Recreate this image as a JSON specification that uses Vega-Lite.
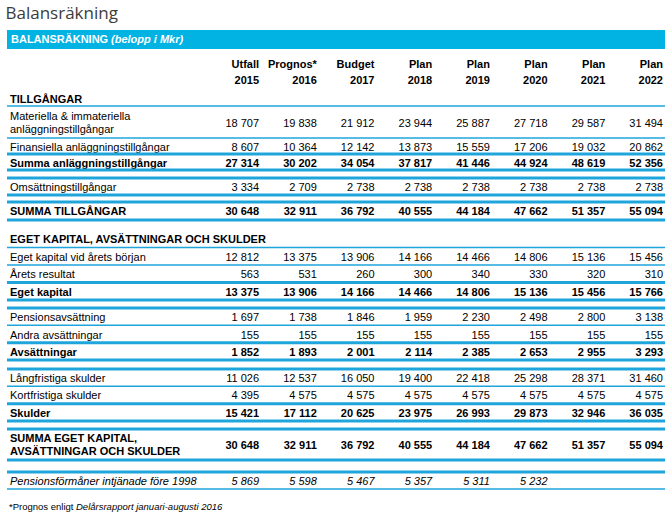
{
"$schema":"https://vega.github.io/schema/vega-lite/v6.json",
"padding":{"left":5,"right":5,"top":5,"bottom":0},
"title":{"text":"Balansräkning","anchor":"start","font":"Open Sans","fontSize":17,"fontWeight":"normal","color":"#3c3c3c","offset":7},
"bounds":"flush",
"spacing":0,
"config":{
  "font":"Liberation Sans",
  "view":{"stroke":null},
  "locale":{"number":{"decimal":",","thousands":" ","grouping":[3],"currency":[""," kr"]}},
  "text":{"dy":1.5},
  "axisY":{"labelAlign":"left","labelPadding":-2.5,"labelOffset":1.5,"labelLimit":400,"labelOverlap":false,"domain":false,"ticks":false,"tickSize":0,"grid":false,"labelFontSize":11,"labelFont":"Liberation Sans","labelColor":"#000000","labelLineHeight":13}
},
"datasets":{
 "rader":[
  {"post":"TILLGÅNGAR"},
  {"post":"Materiella & immateriella\nanläggningstillgångar"},
  {"post":"Finansiella anläggningstillgångar"},
  {"post":"Summa anläggningstillgångar"},
  {"post":"Omsättningstillgångar"},
  {"post":"SUMMA TILLGÅNGAR"},
  {"post":"EGET KAPITAL, AVSÄTTNINGAR OCH SKULDER"},
  {"post":"Eget kapital vid årets början"},
  {"post":"Årets resultat"},
  {"post":"Eget kapital"},
  {"post":"Pensionsavsättning"},
  {"post":"Andra avsättningar"},
  {"post":"Avsättningar"},
  {"post":"Långfristiga skulder"},
  {"post":"Kortfristiga skulder"},
  {"post":"Skulder"},
  {"post":"SUMMA EGET KAPITAL,\nAVSÄTTNINGAR OCH SKULDER"},
  {"post":"Pensionsförmåner intjänade före 1998"}
 ],
 "celler":[
  {"post":"Materiella & immateriella\nanläggningstillgångar","kolumn":"Utfall 2015","belopp":18707},
  {"post":"Materiella & immateriella\nanläggningstillgångar","kolumn":"Prognos* 2016","belopp":19838},
  {"post":"Materiella & immateriella\nanläggningstillgångar","kolumn":"Budget 2017","belopp":21912},
  {"post":"Materiella & immateriella\nanläggningstillgångar","kolumn":"Plan 2018","belopp":23944},
  {"post":"Materiella & immateriella\nanläggningstillgångar","kolumn":"Plan 2019","belopp":25887},
  {"post":"Materiella & immateriella\nanläggningstillgångar","kolumn":"Plan 2020","belopp":27718},
  {"post":"Materiella & immateriella\nanläggningstillgångar","kolumn":"Plan 2021","belopp":29587},
  {"post":"Materiella & immateriella\nanläggningstillgångar","kolumn":"Plan 2022","belopp":31494},
  {"post":"Finansiella anläggningstillgångar","kolumn":"Utfall 2015","belopp":8607},
  {"post":"Finansiella anläggningstillgångar","kolumn":"Prognos* 2016","belopp":10364},
  {"post":"Finansiella anläggningstillgångar","kolumn":"Budget 2017","belopp":12142},
  {"post":"Finansiella anläggningstillgångar","kolumn":"Plan 2018","belopp":13873},
  {"post":"Finansiella anläggningstillgångar","kolumn":"Plan 2019","belopp":15559},
  {"post":"Finansiella anläggningstillgångar","kolumn":"Plan 2020","belopp":17206},
  {"post":"Finansiella anläggningstillgångar","kolumn":"Plan 2021","belopp":19032},
  {"post":"Finansiella anläggningstillgångar","kolumn":"Plan 2022","belopp":20862},
  {"post":"Summa anläggningstillgångar","kolumn":"Utfall 2015","belopp":27314},
  {"post":"Summa anläggningstillgångar","kolumn":"Prognos* 2016","belopp":30202},
  {"post":"Summa anläggningstillgångar","kolumn":"Budget 2017","belopp":34054},
  {"post":"Summa anläggningstillgångar","kolumn":"Plan 2018","belopp":37817},
  {"post":"Summa anläggningstillgångar","kolumn":"Plan 2019","belopp":41446},
  {"post":"Summa anläggningstillgångar","kolumn":"Plan 2020","belopp":44924},
  {"post":"Summa anläggningstillgångar","kolumn":"Plan 2021","belopp":48619},
  {"post":"Summa anläggningstillgångar","kolumn":"Plan 2022","belopp":52356},
  {"post":"Omsättningstillgångar","kolumn":"Utfall 2015","belopp":3334},
  {"post":"Omsättningstillgångar","kolumn":"Prognos* 2016","belopp":2709},
  {"post":"Omsättningstillgångar","kolumn":"Budget 2017","belopp":2738},
  {"post":"Omsättningstillgångar","kolumn":"Plan 2018","belopp":2738},
  {"post":"Omsättningstillgångar","kolumn":"Plan 2019","belopp":2738},
  {"post":"Omsättningstillgångar","kolumn":"Plan 2020","belopp":2738},
  {"post":"Omsättningstillgångar","kolumn":"Plan 2021","belopp":2738},
  {"post":"Omsättningstillgångar","kolumn":"Plan 2022","belopp":2738},
  {"post":"SUMMA TILLGÅNGAR","kolumn":"Utfall 2015","belopp":30648},
  {"post":"SUMMA TILLGÅNGAR","kolumn":"Prognos* 2016","belopp":32911},
  {"post":"SUMMA TILLGÅNGAR","kolumn":"Budget 2017","belopp":36792},
  {"post":"SUMMA TILLGÅNGAR","kolumn":"Plan 2018","belopp":40555},
  {"post":"SUMMA TILLGÅNGAR","kolumn":"Plan 2019","belopp":44184},
  {"post":"SUMMA TILLGÅNGAR","kolumn":"Plan 2020","belopp":47662},
  {"post":"SUMMA TILLGÅNGAR","kolumn":"Plan 2021","belopp":51357},
  {"post":"SUMMA TILLGÅNGAR","kolumn":"Plan 2022","belopp":55094},
  {"post":"Eget kapital vid årets början","kolumn":"Utfall 2015","belopp":12812},
  {"post":"Eget kapital vid årets början","kolumn":"Prognos* 2016","belopp":13375},
  {"post":"Eget kapital vid årets början","kolumn":"Budget 2017","belopp":13906},
  {"post":"Eget kapital vid årets början","kolumn":"Plan 2018","belopp":14166},
  {"post":"Eget kapital vid årets början","kolumn":"Plan 2019","belopp":14466},
  {"post":"Eget kapital vid årets början","kolumn":"Plan 2020","belopp":14806},
  {"post":"Eget kapital vid årets början","kolumn":"Plan 2021","belopp":15136},
  {"post":"Eget kapital vid årets början","kolumn":"Plan 2022","belopp":15456},
  {"post":"Årets resultat","kolumn":"Utfall 2015","belopp":563},
  {"post":"Årets resultat","kolumn":"Prognos* 2016","belopp":531},
  {"post":"Årets resultat","kolumn":"Budget 2017","belopp":260},
  {"post":"Årets resultat","kolumn":"Plan 2018","belopp":300},
  {"post":"Årets resultat","kolumn":"Plan 2019","belopp":340},
  {"post":"Årets resultat","kolumn":"Plan 2020","belopp":330},
  {"post":"Årets resultat","kolumn":"Plan 2021","belopp":320},
  {"post":"Årets resultat","kolumn":"Plan 2022","belopp":310},
  {"post":"Eget kapital","kolumn":"Utfall 2015","belopp":13375},
  {"post":"Eget kapital","kolumn":"Prognos* 2016","belopp":13906},
  {"post":"Eget kapital","kolumn":"Budget 2017","belopp":14166},
  {"post":"Eget kapital","kolumn":"Plan 2018","belopp":14466},
  {"post":"Eget kapital","kolumn":"Plan 2019","belopp":14806},
  {"post":"Eget kapital","kolumn":"Plan 2020","belopp":15136},
  {"post":"Eget kapital","kolumn":"Plan 2021","belopp":15456},
  {"post":"Eget kapital","kolumn":"Plan 2022","belopp":15766},
  {"post":"Pensionsavsättning","kolumn":"Utfall 2015","belopp":1697},
  {"post":"Pensionsavsättning","kolumn":"Prognos* 2016","belopp":1738},
  {"post":"Pensionsavsättning","kolumn":"Budget 2017","belopp":1846},
  {"post":"Pensionsavsättning","kolumn":"Plan 2018","belopp":1959},
  {"post":"Pensionsavsättning","kolumn":"Plan 2019","belopp":2230},
  {"post":"Pensionsavsättning","kolumn":"Plan 2020","belopp":2498},
  {"post":"Pensionsavsättning","kolumn":"Plan 2021","belopp":2800},
  {"post":"Pensionsavsättning","kolumn":"Plan 2022","belopp":3138},
  {"post":"Andra avsättningar","kolumn":"Utfall 2015","belopp":155},
  {"post":"Andra avsättningar","kolumn":"Prognos* 2016","belopp":155},
  {"post":"Andra avsättningar","kolumn":"Budget 2017","belopp":155},
  {"post":"Andra avsättningar","kolumn":"Plan 2018","belopp":155},
  {"post":"Andra avsättningar","kolumn":"Plan 2019","belopp":155},
  {"post":"Andra avsättningar","kolumn":"Plan 2020","belopp":155},
  {"post":"Andra avsättningar","kolumn":"Plan 2021","belopp":155},
  {"post":"Andra avsättningar","kolumn":"Plan 2022","belopp":155},
  {"post":"Avsättningar","kolumn":"Utfall 2015","belopp":1852},
  {"post":"Avsättningar","kolumn":"Prognos* 2016","belopp":1893},
  {"post":"Avsättningar","kolumn":"Budget 2017","belopp":2001},
  {"post":"Avsättningar","kolumn":"Plan 2018","belopp":2114},
  {"post":"Avsättningar","kolumn":"Plan 2019","belopp":2385},
  {"post":"Avsättningar","kolumn":"Plan 2020","belopp":2653},
  {"post":"Avsättningar","kolumn":"Plan 2021","belopp":2955},
  {"post":"Avsättningar","kolumn":"Plan 2022","belopp":3293},
  {"post":"Långfristiga skulder","kolumn":"Utfall 2015","belopp":11026},
  {"post":"Långfristiga skulder","kolumn":"Prognos* 2016","belopp":12537},
  {"post":"Långfristiga skulder","kolumn":"Budget 2017","belopp":16050},
  {"post":"Långfristiga skulder","kolumn":"Plan 2018","belopp":19400},
  {"post":"Långfristiga skulder","kolumn":"Plan 2019","belopp":22418},
  {"post":"Långfristiga skulder","kolumn":"Plan 2020","belopp":25298},
  {"post":"Långfristiga skulder","kolumn":"Plan 2021","belopp":28371},
  {"post":"Långfristiga skulder","kolumn":"Plan 2022","belopp":31460},
  {"post":"Kortfristiga skulder","kolumn":"Utfall 2015","belopp":4395},
  {"post":"Kortfristiga skulder","kolumn":"Prognos* 2016","belopp":4575},
  {"post":"Kortfristiga skulder","kolumn":"Budget 2017","belopp":4575},
  {"post":"Kortfristiga skulder","kolumn":"Plan 2018","belopp":4575},
  {"post":"Kortfristiga skulder","kolumn":"Plan 2019","belopp":4575},
  {"post":"Kortfristiga skulder","kolumn":"Plan 2020","belopp":4575},
  {"post":"Kortfristiga skulder","kolumn":"Plan 2021","belopp":4575},
  {"post":"Kortfristiga skulder","kolumn":"Plan 2022","belopp":4575},
  {"post":"Skulder","kolumn":"Utfall 2015","belopp":15421},
  {"post":"Skulder","kolumn":"Prognos* 2016","belopp":17112},
  {"post":"Skulder","kolumn":"Budget 2017","belopp":20625},
  {"post":"Skulder","kolumn":"Plan 2018","belopp":23975},
  {"post":"Skulder","kolumn":"Plan 2019","belopp":26993},
  {"post":"Skulder","kolumn":"Plan 2020","belopp":29873},
  {"post":"Skulder","kolumn":"Plan 2021","belopp":32946},
  {"post":"Skulder","kolumn":"Plan 2022","belopp":36035},
  {"post":"SUMMA EGET KAPITAL,\nAVSÄTTNINGAR OCH SKULDER","kolumn":"Utfall 2015","belopp":30648},
  {"post":"SUMMA EGET KAPITAL,\nAVSÄTTNINGAR OCH SKULDER","kolumn":"Prognos* 2016","belopp":32911},
  {"post":"SUMMA EGET KAPITAL,\nAVSÄTTNINGAR OCH SKULDER","kolumn":"Budget 2017","belopp":36792},
  {"post":"SUMMA EGET KAPITAL,\nAVSÄTTNINGAR OCH SKULDER","kolumn":"Plan 2018","belopp":40555},
  {"post":"SUMMA EGET KAPITAL,\nAVSÄTTNINGAR OCH SKULDER","kolumn":"Plan 2019","belopp":44184},
  {"post":"SUMMA EGET KAPITAL,\nAVSÄTTNINGAR OCH SKULDER","kolumn":"Plan 2020","belopp":47662},
  {"post":"SUMMA EGET KAPITAL,\nAVSÄTTNINGAR OCH SKULDER","kolumn":"Plan 2021","belopp":51357},
  {"post":"SUMMA EGET KAPITAL,\nAVSÄTTNINGAR OCH SKULDER","kolumn":"Plan 2022","belopp":55094},
  {"post":"Pensionsförmåner intjänade före 1998","kolumn":"Utfall 2015","belopp":5869},
  {"post":"Pensionsförmåner intjänade före 1998","kolumn":"Prognos* 2016","belopp":5598},
  {"post":"Pensionsförmåner intjänade före 1998","kolumn":"Budget 2017","belopp":5467},
  {"post":"Pensionsförmåner intjänade före 1998","kolumn":"Plan 2018","belopp":5357},
  {"post":"Pensionsförmåner intjänade före 1998","kolumn":"Plan 2019","belopp":5311},
  {"post":"Pensionsförmåner intjänade före 1998","kolumn":"Plan 2020","belopp":5232}
 ]
},
"vconcat":[
 {"width":658,"height":19,
  "data":{"values":[{"rubrik":"BALANSRÄKNING","enhet":"(belopp i Mkr)"}]},
  "layer":[
   {"mark":{"type":"rect","color":"#00b3e3"},
    "encoding":{"y":{"field":"rubrik","type":"nominal","scale":{"type":"band","paddingInner":0,"paddingOuter":0},"axis":{"title":null,"labelColor":"#ffffff","labelFontWeight":"bold","labelOffset":0.5,"labelPadding":-3.5}}}},
   {"mark":{"type":"rect","opacity":0},
    "encoding":{"y":{"field":"enhet","type":"nominal","scale":{"type":"band","paddingInner":0,"paddingOuter":0},"axis":{"title":null,"orient":"left","labelColor":"#ffffff","labelFontWeight":"bold","labelFontStyle":"italic","labelOffset":0.5,"labelPadding":-103.5}}}}
  ],
  "resolve":{"scale":{"y":"independent"},"axis":{"y":"independent"}}
 },
 {"width":658,"height":41,
  "data":{"values":[{"kolumn":"Utfall 2015"},{"kolumn":"Prognos* 2016"},{"kolumn":"Budget 2017"},{"kolumn":"Plan 2018"},{"kolumn":"Plan 2019"},{"kolumn":"Plan 2020"},{"kolumn":"Plan 2021"},{"kolumn":"Plan 2022"}]},
  "mark":{"type":"text","align":"right","dx":-2,"dy":-4.5,"fontWeight":"bold","fontSize":11,"lineBreak":" ","lineHeight":16},
  "encoding":{
   "x":{"field":"kolumn","type":"ordinal","sort":null,"scale":{"type":"band","domain":["Utfall 2015","Prognos* 2016","Budget 2017","Plan 2018","Plan 2019","Plan 2020","Plan 2021","Plan 2022"],"paddingInner":0,"paddingOuter":0,"rangeMin":196.4},"bandPosition":1,"axis":null},
   "text":{"field":"kolumn","type":"nominal"}}
 },
 {"width":658,"height":16,
  "data":{"name":"rader"},
  "transform":[{"filter":{"field":"post","equal":"TILLGÅNGAR"}}],
  "mark":{"type":"rule","color":"#1ea5dc","strokeWidth":1.5},
  "encoding":{"y":{"field":"post","type":"nominal","bandPosition":1,"scale":{"type":"band","paddingInner":0,"paddingOuter":0},"axis":{"title":null,"labelFontWeight":"bold"}}}
 },
 {"width":658,"height":32,
  "layer":[
   {"data":{"name":"rader"},"transform":[{"filter":{"field":"post","equal":"Materiella & immateriella\nanläggningstillgångar"}}],
    "mark":{"type":"rule","color":"#1ea5dc","strokeWidth":1.5},
    "encoding":{"y":{"field":"post","type":"nominal","bandPosition":1,"scale":{"type":"band","paddingInner":0,"paddingOuter":0},"axis":{"title":null,"labelOffset":-5,"labelExpr":"split(datum.label, '\\n')"}}}},
   {"data":{"name":"celler"},"transform":[{"filter":{"field":"post","equal":"Materiella & immateriella\nanläggningstillgångar"}}],
    "mark":{"type":"text","align":"right","dx":-2,"fontSize":11},
    "encoding":{
     "x":{"field":"kolumn","type":"ordinal","sort":null,"scale":{"type":"band","domain":["Utfall 2015","Prognos* 2016","Budget 2017","Plan 2018","Plan 2019","Plan 2020","Plan 2021","Plan 2022"],"paddingInner":0,"paddingOuter":0,"rangeMin":196.4},"bandPosition":1,"axis":null},
     "y":{"field":"post","type":"nominal","scale":{"type":"band","paddingInner":0,"paddingOuter":0},"axis":{"title":null,"labelOffset":-5,"labelExpr":"split(datum.label, '\\n')"}},
     "text":{"field":"belopp","type":"quantitative","format":",d"}}}
  ]
 },
 {"width":658,"height":32,
  "layer":[
   {"data":{"name":"rader"},"transform":[{"filter":{"field":"post","oneOf":["Finansiella anläggningstillgångar","Summa anläggningstillgångar"]}}],
    "mark":{"type":"rule","color":"#1ea5dc","strokeWidth":3},
    "encoding":{"y":{"field":"post","type":"nominal","bandPosition":1,"scale":{"type":"band","domain":["Finansiella anläggningstillgångar","Summa anläggningstillgångar"],"paddingInner":0,"paddingOuter":0},"axis":{"title":null,"labelFontWeight":{"condition":{"test":"datum.value === 'Summa anläggningstillgångar'","value":"bold"},"value":"normal"}}}}},
   {"data":{"name":"celler"},"transform":[{"filter":{"field":"post","equal":"Finansiella anläggningstillgångar"}}],
    "mark":{"type":"text","align":"right","dx":-2,"fontSize":11},
    "encoding":{
     "x":{"field":"kolumn","type":"ordinal","sort":null,"scale":{"type":"band","domain":["Utfall 2015","Prognos* 2016","Budget 2017","Plan 2018","Plan 2019","Plan 2020","Plan 2021","Plan 2022"],"paddingInner":0,"paddingOuter":0,"rangeMin":196.4},"bandPosition":1,"axis":null},
     "y":{"field":"post","type":"nominal","scale":{"type":"band","domain":["Finansiella anläggningstillgångar","Summa anläggningstillgångar"],"paddingInner":0,"paddingOuter":0},"axis":{"title":null,"labelFontWeight":{"condition":{"test":"datum.value === 'Summa anläggningstillgångar'","value":"bold"},"value":"normal"}}},
     "text":{"field":"belopp","type":"quantitative","format":",d"}}},
   {"data":{"name":"celler"},"transform":[{"filter":{"field":"post","equal":"Summa anläggningstillgångar"}}],
    "mark":{"type":"text","align":"right","dx":-2,"fontSize":11,"fontWeight":"bold"},
    "encoding":{
     "x":{"field":"kolumn","type":"ordinal","sort":null,"scale":{"type":"band","domain":["Utfall 2015","Prognos* 2016","Budget 2017","Plan 2018","Plan 2019","Plan 2020","Plan 2021","Plan 2022"],"paddingInner":0,"paddingOuter":0,"rangeMin":196.4},"bandPosition":1,"axis":null},
     "y":{"field":"post","type":"nominal","scale":{"type":"band","domain":["Finansiella anläggningstillgångar","Summa anläggningstillgångar"],"paddingInner":0,"paddingOuter":0},"axis":{"title":null,"labelFontWeight":{"condition":{"test":"datum.value === 'Summa anläggningstillgångar'","value":"bold"},"value":"normal"}}},
     "text":{"field":"belopp","type":"quantitative","format":",d"}}}
  ]
 },
 {"width":658,"height":25,
  "layer":[
   {"data":{"name":"rader"},"transform":[{"filter":{"field":"post","equal":"Omsättningstillgångar"}}],
    "mark":{"type":"rule","color":"#1ea5dc","strokeWidth":3},
    "encoding":{"y":{"field":"post","type":"nominal","bandPosition":0,"scale":{"type":"band","paddingInner":0,"paddingOuter":0.2353,"align":1},"axis":{"title":null}}}},
   {"data":{"name":"rader"},"transform":[{"filter":{"field":"post","equal":"Omsättningstillgångar"}}],
    "mark":{"type":"rule","color":"#1ea5dc","strokeWidth":3},
    "encoding":{"y":{"field":"post","type":"nominal","bandPosition":1,"scale":{"type":"band","paddingInner":0,"paddingOuter":0.2353,"align":1},"axis":{"title":null}}}},
   {"data":{"name":"celler"},"transform":[{"filter":{"field":"post","equal":"Omsättningstillgångar"}}],
    "mark":{"type":"text","align":"right","dx":-2,"fontSize":11},
    "encoding":{
     "x":{"field":"kolumn","type":"ordinal","sort":null,"scale":{"type":"band","domain":["Utfall 2015","Prognos* 2016","Budget 2017","Plan 2018","Plan 2019","Plan 2020","Plan 2021","Plan 2022"],"paddingInner":0,"paddingOuter":0,"rangeMin":196.4},"bandPosition":1,"axis":null},
     "y":{"field":"post","type":"nominal","scale":{"type":"band","paddingInner":0,"paddingOuter":0.2353,"align":1},"axis":{"title":null}},
     "text":{"field":"belopp","type":"quantitative","format":",d"}}}
  ]
 },
 {"width":658,"height":25,
  "layer":[
   {"data":{"name":"rader"},"transform":[{"filter":{"field":"post","equal":"SUMMA TILLGÅNGAR"}}],
    "mark":{"type":"rule","color":"#1ea5dc","strokeWidth":3},
    "encoding":{"y":{"field":"post","type":"nominal","bandPosition":0,"scale":{"type":"band","paddingInner":0,"paddingOuter":0.1944,"align":1},"axis":{"title":null,"labelFontWeight":"bold"}}}},
   {"data":{"name":"rader"},"transform":[{"filter":{"field":"post","equal":"SUMMA TILLGÅNGAR"}}],
    "mark":{"type":"rule","color":"#1ea5dc","strokeWidth":3},
    "encoding":{"y":{"field":"post","type":"nominal","bandPosition":1,"scale":{"type":"band","paddingInner":0,"paddingOuter":0.1944,"align":1},"axis":{"title":null,"labelFontWeight":"bold"}}}},
   {"data":{"name":"celler"},"transform":[{"filter":{"field":"post","equal":"SUMMA TILLGÅNGAR"}}],
    "mark":{"type":"text","align":"right","dx":-2,"fontSize":11,"fontWeight":"bold"},
    "encoding":{
     "x":{"field":"kolumn","type":"ordinal","sort":null,"scale":{"type":"band","domain":["Utfall 2015","Prognos* 2016","Budget 2017","Plan 2018","Plan 2019","Plan 2020","Plan 2021","Plan 2022"],"paddingInner":0,"paddingOuter":0,"rangeMin":196.4},"bandPosition":1,"axis":null},
     "y":{"field":"post","type":"nominal","scale":{"type":"band","paddingInner":0,"paddingOuter":0.1944,"align":1},"axis":{"title":null,"labelFontWeight":"bold"}},
     "text":{"field":"belopp","type":"quantitative","format":",d"}}}
  ]
 },
 {"width":658,"height":80,
  "layer":[
   {"data":{"name":"rader"},"transform":[{"filter":{"field":"post","oneOf":["EGET KAPITAL, AVSÄTTNINGAR OCH SKULDER","Eget kapital vid årets början"]}}],
    "mark":{"type":"rule","color":"#1ea5dc","strokeWidth":1.5},
    "encoding":{"y":{"field":"post","type":"nominal","bandPosition":1,"scale":{"type":"band","domain":["EGET KAPITAL, AVSÄTTNINGAR OCH SKULDER","Eget kapital vid årets början","Årets resultat","Eget kapital"],"paddingInner":0,"paddingOuter":0.2857,"align":1},"axis":{"title":null,"labelFontWeight":{"condition":{"test":"datum.value === 'Eget kapital' || datum.value === 'EGET KAPITAL, AVSÄTTNINGAR OCH SKULDER'","value":"bold"},"value":"normal"}}}}},
   {"data":{"name":"rader"},"transform":[{"filter":{"field":"post","oneOf":["Årets resultat","Eget kapital"]}}],
    "mark":{"type":"rule","color":"#1ea5dc","strokeWidth":3},
    "encoding":{"y":{"field":"post","type":"nominal","bandPosition":1,"scale":{"type":"band","domain":["EGET KAPITAL, AVSÄTTNINGAR OCH SKULDER","Eget kapital vid årets början","Årets resultat","Eget kapital"],"paddingInner":0,"paddingOuter":0.2857,"align":1},"axis":{"title":null,"labelFontWeight":{"condition":{"test":"datum.value === 'Eget kapital' || datum.value === 'EGET KAPITAL, AVSÄTTNINGAR OCH SKULDER'","value":"bold"},"value":"normal"}}}}},
   {"data":{"name":"celler"},"transform":[{"filter":{"field":"post","oneOf":["Eget kapital vid årets början","Årets resultat"]}}],
    "mark":{"type":"text","align":"right","dx":-2,"fontSize":11},
    "encoding":{
     "x":{"field":"kolumn","type":"ordinal","sort":null,"scale":{"type":"band","domain":["Utfall 2015","Prognos* 2016","Budget 2017","Plan 2018","Plan 2019","Plan 2020","Plan 2021","Plan 2022"],"paddingInner":0,"paddingOuter":0,"rangeMin":196.4},"bandPosition":1,"axis":null},
     "y":{"field":"post","type":"nominal","scale":{"type":"band","domain":["EGET KAPITAL, AVSÄTTNINGAR OCH SKULDER","Eget kapital vid årets början","Årets resultat","Eget kapital"],"paddingInner":0,"paddingOuter":0.2857,"align":1},"axis":{"title":null,"labelFontWeight":{"condition":{"test":"datum.value === 'Eget kapital' || datum.value === 'EGET KAPITAL, AVSÄTTNINGAR OCH SKULDER'","value":"bold"},"value":"normal"}}},
     "text":{"field":"belopp","type":"quantitative","format":",d"}}},
   {"data":{"name":"celler"},"transform":[{"filter":{"field":"post","equal":"Eget kapital"}}],
    "mark":{"type":"text","align":"right","dx":-2,"fontSize":11,"fontWeight":"bold"},
    "encoding":{
     "x":{"field":"kolumn","type":"ordinal","sort":null,"scale":{"type":"band","domain":["Utfall 2015","Prognos* 2016","Budget 2017","Plan 2018","Plan 2019","Plan 2020","Plan 2021","Plan 2022"],"paddingInner":0,"paddingOuter":0,"rangeMin":196.4},"bandPosition":1,"axis":null},
     "y":{"field":"post","type":"nominal","scale":{"type":"band","domain":["EGET KAPITAL, AVSÄTTNINGAR OCH SKULDER","Eget kapital vid årets början","Årets resultat","Eget kapital"],"paddingInner":0,"paddingOuter":0.2857,"align":1},"axis":{"title":null,"labelFontWeight":{"condition":{"test":"datum.value === 'Eget kapital' || datum.value === 'EGET KAPITAL, AVSÄTTNINGAR OCH SKULDER'","value":"bold"},"value":"normal"}}},
     "text":{"field":"belopp","type":"quantitative","format":",d"}}}
  ]
 },
 {"width":658,"height":60,
  "layer":[
   {"data":{"name":"rader"},"transform":[{"filter":{"field":"post","equal":"Pensionsavsättning"}}],
    "mark":{"type":"rule","color":"#1ea5dc","strokeWidth":3},
    "encoding":{"y":{"field":"post","type":"nominal","bandPosition":0,"scale":{"type":"band","domain":["Pensionsavsättning","Andra avsättningar","Avsättningar"],"paddingInner":0,"paddingOuter":0.2308,"align":1},"axis":{"title":null,"labelFontWeight":{"condition":{"test":"datum.value === 'Avsättningar'","value":"bold"},"value":"normal"}}}}},
   {"data":{"name":"rader"},"transform":[{"filter":{"field":"post","equal":"Pensionsavsättning"}}],
    "mark":{"type":"rule","color":"#1ea5dc","strokeWidth":1.5},
    "encoding":{"y":{"field":"post","type":"nominal","bandPosition":1,"scale":{"type":"band","domain":["Pensionsavsättning","Andra avsättningar","Avsättningar"],"paddingInner":0,"paddingOuter":0.2308,"align":1},"axis":{"title":null,"labelFontWeight":{"condition":{"test":"datum.value === 'Avsättningar'","value":"bold"},"value":"normal"}}}}},
   {"data":{"name":"rader"},"transform":[{"filter":{"field":"post","oneOf":["Andra avsättningar","Avsättningar"]}}],
    "mark":{"type":"rule","color":"#1ea5dc","strokeWidth":3},
    "encoding":{"y":{"field":"post","type":"nominal","bandPosition":1,"scale":{"type":"band","domain":["Pensionsavsättning","Andra avsättningar","Avsättningar"],"paddingInner":0,"paddingOuter":0.2308,"align":1},"axis":{"title":null,"labelFontWeight":{"condition":{"test":"datum.value === 'Avsättningar'","value":"bold"},"value":"normal"}}}}},
   {"data":{"name":"celler"},"transform":[{"filter":{"field":"post","oneOf":["Pensionsavsättning","Andra avsättningar"]}}],
    "mark":{"type":"text","align":"right","dx":-2,"fontSize":11},
    "encoding":{
     "x":{"field":"kolumn","type":"ordinal","sort":null,"scale":{"type":"band","domain":["Utfall 2015","Prognos* 2016","Budget 2017","Plan 2018","Plan 2019","Plan 2020","Plan 2021","Plan 2022"],"paddingInner":0,"paddingOuter":0,"rangeMin":196.4},"bandPosition":1,"axis":null},
     "y":{"field":"post","type":"nominal","scale":{"type":"band","domain":["Pensionsavsättning","Andra avsättningar","Avsättningar"],"paddingInner":0,"paddingOuter":0.2308,"align":1},"axis":{"title":null,"labelFontWeight":{"condition":{"test":"datum.value === 'Avsättningar'","value":"bold"},"value":"normal"}}},
     "text":{"field":"belopp","type":"quantitative","format":",d"}}},
   {"data":{"name":"celler"},"transform":[{"filter":{"field":"post","equal":"Avsättningar"}}],
    "mark":{"type":"text","align":"right","dx":-2,"fontSize":11,"fontWeight":"bold"},
    "encoding":{
     "x":{"field":"kolumn","type":"ordinal","sort":null,"scale":{"type":"band","domain":["Utfall 2015","Prognos* 2016","Budget 2017","Plan 2018","Plan 2019","Plan 2020","Plan 2021","Plan 2022"],"paddingInner":0,"paddingOuter":0,"rangeMin":196.4},"bandPosition":1,"axis":null},
     "y":{"field":"post","type":"nominal","scale":{"type":"band","domain":["Pensionsavsättning","Andra avsättningar","Avsättningar"],"paddingInner":0,"paddingOuter":0.2308,"align":1},"axis":{"title":null,"labelFontWeight":{"condition":{"test":"datum.value === 'Avsättningar'","value":"bold"},"value":"normal"}}},
     "text":{"field":"belopp","type":"quantitative","format":",d"}}}
  ]
 },
 {"width":658,"height":61,
  "layer":[
   {"data":{"name":"rader"},"transform":[{"filter":{"field":"post","equal":"Långfristiga skulder"}}],
    "mark":{"type":"rule","color":"#1ea5dc","strokeWidth":3},
    "encoding":{"y":{"field":"post","type":"nominal","bandPosition":0,"scale":{"type":"band","domain":["Långfristiga skulder","Kortfristiga skulder","Skulder"],"paddingInner":0,"paddingOuter":0.2596,"align":1},"axis":{"title":null,"labelFontWeight":{"condition":{"test":"datum.value === 'Skulder'","value":"bold"},"value":"normal"}}}}},
   {"data":{"name":"rader"},"transform":[{"filter":{"field":"post","equal":"Långfristiga skulder"}}],
    "mark":{"type":"rule","color":"#1ea5dc","strokeWidth":1.5},
    "encoding":{"y":{"field":"post","type":"nominal","bandPosition":1,"scale":{"type":"band","domain":["Långfristiga skulder","Kortfristiga skulder","Skulder"],"paddingInner":0,"paddingOuter":0.2596,"align":1},"axis":{"title":null,"labelFontWeight":{"condition":{"test":"datum.value === 'Skulder'","value":"bold"},"value":"normal"}}}}},
   {"data":{"name":"rader"},"transform":[{"filter":{"field":"post","oneOf":["Kortfristiga skulder","Skulder"]}}],
    "mark":{"type":"rule","color":"#1ea5dc","strokeWidth":3},
    "encoding":{"y":{"field":"post","type":"nominal","bandPosition":1,"scale":{"type":"band","domain":["Långfristiga skulder","Kortfristiga skulder","Skulder"],"paddingInner":0,"paddingOuter":0.2596,"align":1},"axis":{"title":null,"labelFontWeight":{"condition":{"test":"datum.value === 'Skulder'","value":"bold"},"value":"normal"}}}}},
   {"data":{"name":"celler"},"transform":[{"filter":{"field":"post","oneOf":["Långfristiga skulder","Kortfristiga skulder"]}}],
    "mark":{"type":"text","align":"right","dx":-2,"fontSize":11},
    "encoding":{
     "x":{"field":"kolumn","type":"ordinal","sort":null,"scale":{"type":"band","domain":["Utfall 2015","Prognos* 2016","Budget 2017","Plan 2018","Plan 2019","Plan 2020","Plan 2021","Plan 2022"],"paddingInner":0,"paddingOuter":0,"rangeMin":196.4},"bandPosition":1,"axis":null},
     "y":{"field":"post","type":"nominal","scale":{"type":"band","domain":["Långfristiga skulder","Kortfristiga skulder","Skulder"],"paddingInner":0,"paddingOuter":0.2596,"align":1},"axis":{"title":null,"labelFontWeight":{"condition":{"test":"datum.value === 'Skulder'","value":"bold"},"value":"normal"}}},
     "text":{"field":"belopp","type":"quantitative","format":",d"}}},
   {"data":{"name":"celler"},"transform":[{"filter":{"field":"post","equal":"Skulder"}}],
    "mark":{"type":"text","align":"right","dx":-2,"fontSize":11,"fontWeight":"bold"},
    "encoding":{
     "x":{"field":"kolumn","type":"ordinal","sort":null,"scale":{"type":"band","domain":["Utfall 2015","Prognos* 2016","Budget 2017","Plan 2018","Plan 2019","Plan 2020","Plan 2021","Plan 2022"],"paddingInner":0,"paddingOuter":0,"rangeMin":196.4},"bandPosition":1,"axis":null},
     "y":{"field":"post","type":"nominal","scale":{"type":"band","domain":["Långfristiga skulder","Kortfristiga skulder","Skulder"],"paddingInner":0,"paddingOuter":0.2596,"align":1},"axis":{"title":null,"labelFontWeight":{"condition":{"test":"datum.value === 'Skulder'","value":"bold"},"value":"normal"}}},
     "text":{"field":"belopp","type":"quantitative","format":",d"}}}
  ]
 },
 {"width":658,"height":39,
  "layer":[
   {"data":{"name":"rader"},"transform":[{"filter":{"field":"post","equal":"SUMMA EGET KAPITAL,\nAVSÄTTNINGAR OCH SKULDER"}}],
    "mark":{"type":"rule","color":"#1ea5dc","strokeWidth":3},
    "encoding":{"y":{"field":"post","type":"nominal","bandPosition":0,"scale":{"type":"band","paddingInner":0,"paddingOuter":0.129,"align":1},"axis":{"title":null,"labelFontWeight":"bold","labelOffset":-5,"labelExpr":"split(datum.label, '\\n')"}}}},
   {"data":{"name":"rader"},"transform":[{"filter":{"field":"post","equal":"SUMMA EGET KAPITAL,\nAVSÄTTNINGAR OCH SKULDER"}}],
    "mark":{"type":"rule","color":"#1ea5dc","strokeWidth":3},
    "encoding":{"y":{"field":"post","type":"nominal","bandPosition":1,"scale":{"type":"band","paddingInner":0,"paddingOuter":0.129,"align":1},"axis":{"title":null,"labelFontWeight":"bold","labelOffset":-5,"labelExpr":"split(datum.label, '\\n')"}}}},
   {"data":{"name":"celler"},"transform":[{"filter":{"field":"post","equal":"SUMMA EGET KAPITAL,\nAVSÄTTNINGAR OCH SKULDER"}}],
    "mark":{"type":"text","align":"right","dx":-2,"fontSize":11,"fontWeight":"bold"},
    "encoding":{
     "x":{"field":"kolumn","type":"ordinal","sort":null,"scale":{"type":"band","domain":["Utfall 2015","Prognos* 2016","Budget 2017","Plan 2018","Plan 2019","Plan 2020","Plan 2021","Plan 2022"],"paddingInner":0,"paddingOuter":0,"rangeMin":196.4},"bandPosition":1,"axis":null},
     "y":{"field":"post","type":"nominal","scale":{"type":"band","paddingInner":0,"paddingOuter":0.129,"align":1},"axis":{"title":null,"labelFontWeight":"bold","labelOffset":-5,"labelExpr":"split(datum.label, '\\n')"}},
     "text":{"field":"belopp","type":"quantitative","format":",d"}}}
  ]
 },
 {"width":658,"height":29,
  "layer":[
   {"data":{"name":"rader"},"transform":[{"filter":{"field":"post","equal":"Pensionsförmåner intjänade före 1998"}}],
    "mark":{"type":"rule","color":"#1ea5dc","strokeWidth":3},
    "encoding":{"y":{"field":"post","type":"nominal","bandPosition":0,"scale":{"type":"band","paddingInner":0,"paddingOuter":0.353,"align":1},"axis":{"title":null,"labelFontStyle":"italic"}}}},
   {"data":{"name":"rader"},"transform":[{"filter":{"field":"post","equal":"Pensionsförmåner intjänade före 1998"}}],
    "mark":{"type":"rule","color":"#1ea5dc","strokeWidth":1.5},
    "encoding":{"y":{"field":"post","type":"nominal","bandPosition":1,"scale":{"type":"band","paddingInner":0,"paddingOuter":0.353,"align":1},"axis":{"title":null,"labelFontStyle":"italic"}}}},
   {"data":{"name":"celler"},"transform":[{"filter":{"field":"post","equal":"Pensionsförmåner intjänade före 1998"}}],
    "mark":{"type":"text","align":"right","dx":-2,"fontSize":11,"fontStyle":"italic"},
    "encoding":{
     "x":{"field":"kolumn","type":"ordinal","sort":null,"scale":{"type":"band","domain":["Utfall 2015","Prognos* 2016","Budget 2017","Plan 2018","Plan 2019","Plan 2020","Plan 2021","Plan 2022"],"paddingInner":0,"paddingOuter":0,"rangeMin":196.4},"bandPosition":1,"axis":null},
     "y":{"field":"post","type":"nominal","scale":{"type":"band","paddingInner":0,"paddingOuter":0.353,"align":1},"axis":{"title":null,"labelFontStyle":"italic"}},
     "text":{"field":"belopp","type":"quantitative","format":",d"}}}
  ]
 },
 {"width":658,"height":24,
  "data":{"values":[{"not":"*Prognos enligt","kalla":"Delårsrapport januari-augusti 2016"}]},
  "layer":[
   {"mark":{"type":"rect","opacity":0},
    "encoding":{"y":{"field":"not","type":"nominal","scale":{"type":"band","paddingInner":0,"paddingOuter":0.25,"align":1},"axis":{"title":null,"labelFontSize":9.5,"labelPadding":-1.5}}}},
   {"mark":{"type":"rect","opacity":0},
    "encoding":{"y":{"field":"kalla","type":"nominal","scale":{"type":"band","paddingInner":0,"paddingOuter":0.25,"align":1},"axis":{"title":null,"orient":"left","labelFontSize":9.5,"labelFontStyle":"italic","labelPadding":-68.5}}}}
  ],
  "resolve":{"scale":{"y":"independent"},"axis":{"y":"independent"}}
 }
]
}
